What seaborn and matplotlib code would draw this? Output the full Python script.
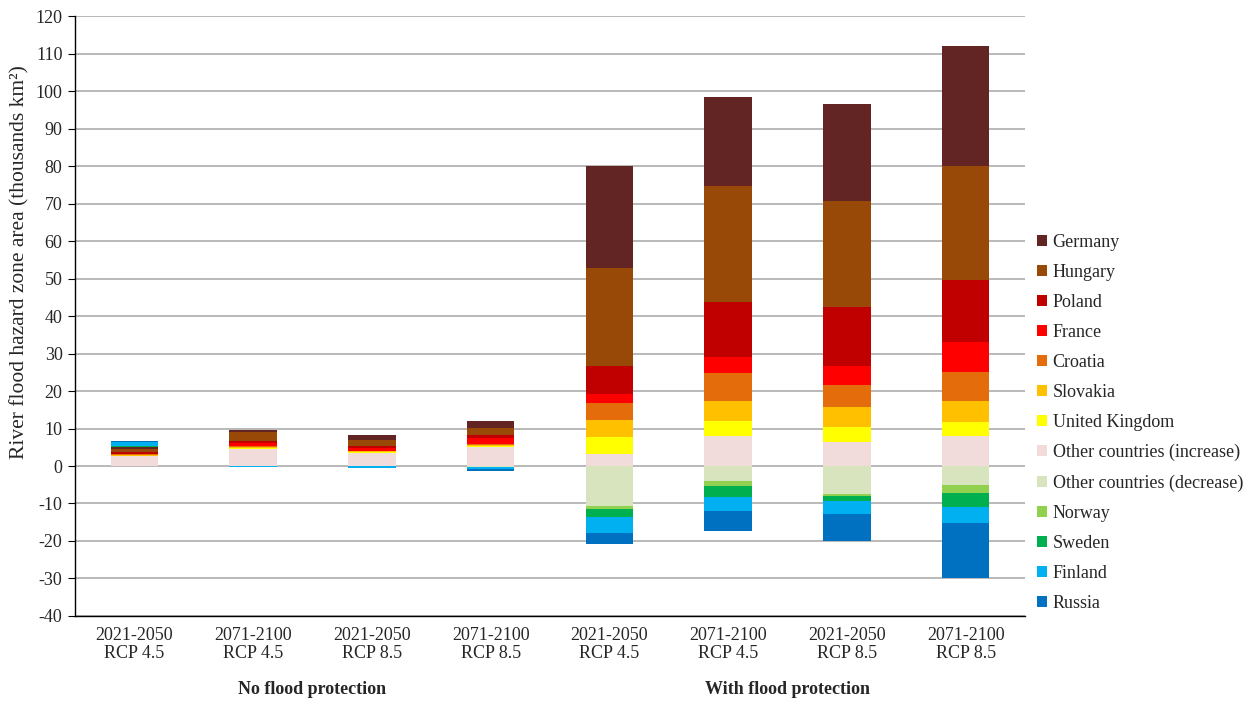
import numpy as np
import pandas as pd
import matplotlib
matplotlib.use("Agg")
import matplotlib.pyplot as plt
import matplotlib.transforms as mtransforms
from matplotlib.patches import Patch
import seaborn as sns

# periods (x categories)
periods = ["2021-2050\nRCP 4.5", "2071-2100\nRCP 4.5", "2021-2050\nRCP 8.5", "2071-2100\nRCP 8.5",
           "2021-2050\nRCP 4.5", "2071-2100\nRCP 4.5", "2021-2050\nRCP 8.5", "2071-2100\nRCP 8.5"]
groups = ["No flood protection", "With flood protection"]

# stacking order (from zero outwards)
series = ["Other countries (increase)", "United Kingdom", "Slovakia", "Croatia", "France", "Poland",
          "Hungary", "Germany", "Other countries (decrease)", "Norway", "Sweden", "Finland", "Russia"]

germany = [0.6, 0.6, 1.15, 1.8, 27.4, 23.7, 25.9, 32.0]
hungary = [0.7, 2.2, 1.6, 1.95, 25.9, 31.1, 28.3, 30.6]
poland = [0.5, 0.7, 0.6, 0.7, 7.5, 14.6, 15.6, 16.4]
france = [0.2, 0.8, 0.7, 1.7, 2.6, 4.3, 5.0, 8.0]
croatia = [0.1, 0.2, 0.2, 0.25, 4.4, 7.5, 5.9, 7.8]
slovakia = [0.2, 0.25, 0.25, 0.25, 4.6, 5.3, 5.4, 5.5]
uk = [0.2, 0.2, 0.25, 0.2, 4.6, 3.9, 3.9, 3.8]
other_inc = [2.6, 4.6, 3.4, 5.15, 3.1, 8.1, 6.5, 8.0]
other_dec = [-0.1, -0.1, -0.1, -0.2, -10.7, -4.1, -7.5, -5.0]
norway = [0, 0, 0, 0, -0.7, -1.1, -0.5, -2.2]
sweden = [0.25, 0, 0.15, -0.1, -2.3, -3.2, -1.3, -3.7]
finland = [1.05, -0.2, -0.4, -0.4, -4.1, -3.6, -3.4, -4.3]
russia = [0.35, 0, 0, -0.6, -3.0, -5.3, -7.3, -14.6]

values = [other_inc, uk, slovakia, croatia, france, poland, hungary, germany,
          other_dec, norway, sweden, finland, russia]

colors = {
    "Germany": "#632523", "Hungary": "#984807", "Poland": "#C00000", "France": "#FF0000",
    "Croatia": "#E46C0A", "Slovakia": "#FFC000", "United Kingdom": "#FFFF00",
    "Other countries (increase)": "#F2DCDB", "Other countries (decrease)": "#D7E4BD",
    "Norway": "#92D050", "Sweden": "#00B050", "Finland": "#00B0F0", "Russia": "#0070C0",
}
legend_order = ["Germany", "Hungary", "Poland", "France", "Croatia", "Slovakia", "United Kingdom",
                "Other countries (increase)", "Other countries (decrease)", "Norway", "Sweden",
                "Finland", "Russia"]

sns.set_style("white")
plt.rcParams["font.family"] = ["Liberation Serif", "DejaVu Serif"]
plt.rcParams["font.size"] = 13
plt.rcParams["axes.unicode_minus"] = False

fig = plt.figure(figsize=(12.44, 7.01), dpi=100)
ax = fig.add_axes([0.0603, 0.1213, 0.7637, 0.8557])

vals = np.array(values, dtype=float)
pos_cum = np.cumsum(np.clip(vals, 0, None), axis=0)
neg_cum = np.cumsum(np.clip(vals, None, 0), axis=0)
xs = list(range(len(periods)))

# layered drawing: outermost cumulative first, inner ones on top
for cum in (pos_cum, neg_cum):
    for k in range(len(series) - 1, -1, -1):
        df = pd.DataFrame({"x": xs, "y": cum[k]})
        sns.barplot(data=df, x="x", y="y", color=colors[series[k]], width=0.4,
                    errorbar=None, linewidth=0, saturation=1, ax=ax)

ax.set_xlim(-0.5, len(periods) - 0.5)
ax.set_ylim(-40, 120)
ax.set_yticks(np.arange(-40, 121, 10))
ax.set_xticks(xs)
ax.set_xticklabels(periods, linespacing=1.1)
ax.set_xticks(np.arange(-0.5, len(periods), 1), minor=True)
ax.tick_params(axis="x", which="major", length=0, pad=8, labelsize=13)
ax.tick_params(axis="x", which="minor", length=6, direction="out", color="black")
ax.tick_params(axis="y", length=5, direction="out", color="black", labelsize=13, left=True, pad=4)
ax.set_xlabel("")
ax.set_ylabel("River flood hazard zone area (thousands km²)", fontsize=15.5, va="center")
ax.yaxis.set_label_coords(-0.058, 0.59)

ax.yaxis.grid(True, color="#A6A6A6", linewidth=1.1)
ax.set_axisbelow(True)
for s in ["top", "right"]:
    ax.spines[s].set_visible(False)
ax.spines["left"].set_color("black")
ax.spines["bottom"].set_color("black")
ax.spines["left"].set_linewidth(1)
ax.spines["bottom"].set_linewidth(1)

trans = mtransforms.blended_transform_factory(ax.transData, ax.transAxes)
ax.text(1.5, -0.123, groups[0], transform=trans, ha="center", va="center",
        fontweight="bold", fontsize=13)
ax.text(5.5, -0.123, groups[1], transform=trans, ha="center", va="center",
        fontweight="bold", fontsize=13)

handles = [Patch(facecolor=colors[n], edgecolor="none") for n in legend_order]
fig.legend(handles, legend_order, loc="center left", bbox_to_anchor=(0.828, 0.397),
           frameon=False, fontsize=13, handlelength=0.55, handleheight=0.55,
           handletextpad=0.3, labelspacing=0.72, borderaxespad=0)

fig.savefig("out.png", dpi=100)
